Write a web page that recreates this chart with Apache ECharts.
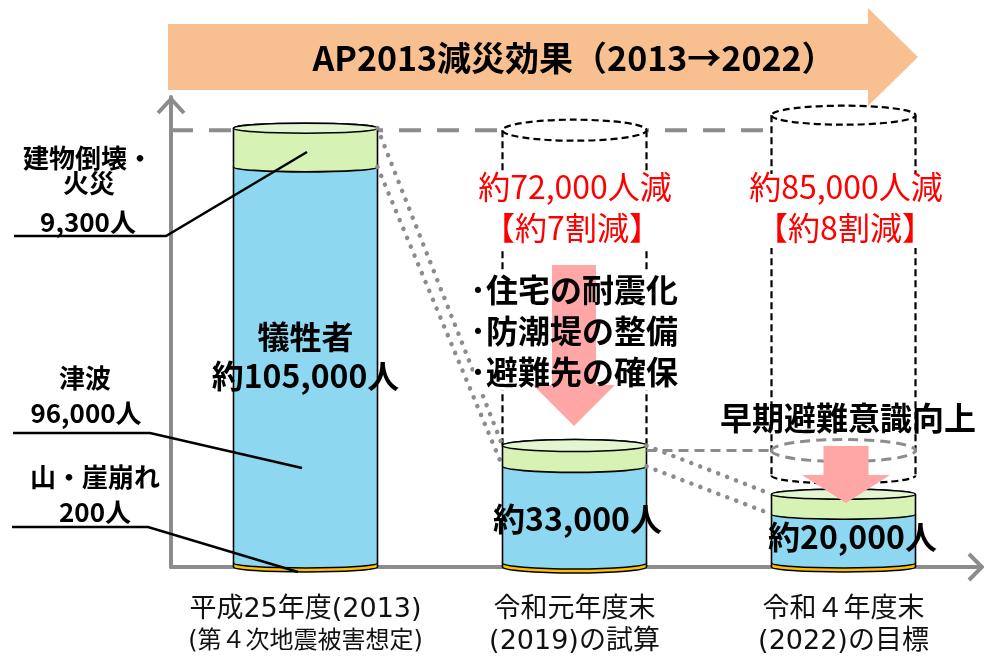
<!DOCTYPE html>
<html>
<head>
<meta charset="utf-8">
<title>AP2013減災効果</title>
<script src="https://cdn.jsdelivr.net/npm/echarts@6.0.0/dist/echarts.min.js"></script>
<style>
html,body{margin:0;padding:0;background:#fff;}
#chart{width:984px;height:657px;}
</style>
</head>
<body>
<div id="chart"></div>
<script>
// カテゴリ（横軸）
var categories = ['平成25年度(2013)', '令和元年度末', '令和４年度末'];
var categorySub = ['(第４次地震被害想定)', '(2019)の試算', '(2022)の目標'];
// 犠牲者の内訳（人）　下から 山・崖崩れ / 津波 / 建物倒壊・火災
var landslide = [200, 200, 200];
var tsunami = [96000, 24000, 12500];
var building = [9300, 5000, 4800];
var totalLabels = ['犠牲者\n約105,000人', '約33,000人', '約20,000人'];
var reduceLabels = ['', '約72,000人減\n【約7割減】', '約85,000人減\n【約8割減】'];
var measures = ['･住宅の耐震化', '･防潮堤の整備', '･避難先の確保'];
var yMax = 113000;

var FONT = '"Noto Sans CJK JP", "Noto Sans", sans-serif';
var LABEL_FONT = '"DejaVu Sans", "Noto Sans CJK JP", sans-serif';
var GRAY = '#8c8c8c';
var BAR_W = 144;
var colors = ['#ffc000', '#8dd7f0', '#d6f2b4'];

function total(i) { return landslide[i] + tsunami[i] + building[i]; }
function greenBase(i) { return landslide[i] + tsunami[i]; }

// 円柱の側面（上は奥側の弧、下は手前の弧）
function cylPath(x0, x1, yt, yb, ry) {
	var rx = (x1 - x0) / 2;
	return 'M' + x0 + ' ' + yt + 'L' + x0 + ' ' + yb +
		'A' + rx + ' ' + ry + ' 0 0 0 ' + x1 + ' ' + yb +
		'L' + x1 + ' ' + yt +
		'A' + rx + ' ' + ry + ' 0 0 0 ' + x0 + ' ' + yt + 'Z';
}
function ellipsePath(x0, x1, cy, ry) {
	var rx = (x1 - x0) / 2;
	return 'M' + x0 + ' ' + cy + 'A' + rx + ' ' + ry + ' 0 0 0 ' + x1 + ' ' + cy +
		'A' + rx + ' ' + ry + ' 0 0 0 ' + x0 + ' ' + cy + 'Z';
}
function frontArc(x0, x1, cy, ry) {
	var rx = (x1 - x0) / 2;
	return 'M' + x0 + ' ' + cy + 'A' + rx + ' ' + ry + ' 0 0 0 ' + x1 + ' ' + cy;
}

function renderItem(params, api) {
	var i = api.value(0);
	var base = api.coord([i, 0]);
	var cx = base[0], x0 = cx - BAR_W / 2, x1 = cx + BAR_W / 2;
	var ys = [base[1]];
	var cum = 0;
	for (var k = 1; k <= 3; k++) {
		cum += api.value(k);
		var y = api.coord([i, cum])[1];
		if (ys[k - 1] - y < 4) y = ys[k - 1] - 4; //最小の厚さ
		ys.push(y);
	}
	var ry = [5, 6, 5][i];
	var children = [];
	var top0 = api.coord([0, total(0)])[1];
	var dashBlack = {stroke: '#000', lineWidth: 2.2, lineDash: [7, 4], fill: null};

	if (i === 0) {
		//2013年の水準（破線）
		var endX = api.coord([2, 0])[0] - BAR_W / 2;
		children.push({type: 'line', shape: {x1: params.coordSys.x, y1: top0 + 2, x2: endX, y2: top0 + 2},
			style: {stroke: GRAY, lineWidth: 4, lineDash: [22, 16]}});
	} else {
		var gt = i === 1 ? top0 + 2 : top0 - 13;
		var gry = i === 1 ? 10.5 : 9.5;
		var gb = i === 1 ? ys[3] : api.coord([1, total(1)])[1] + 30;
		children.push({type: 'path', shape: {pathData: cylPath(x0, x1, gt, gb, 8)}, style: {fill: '#fff', stroke: null}});
		children.push({type: 'line', shape: {x1: x0, y1: gt, x2: x0, y2: gb}, style: dashBlack});
		children.push({type: 'line', shape: {x1: x1, y1: gt, x2: x1, y2: gb}, style: dashBlack});
		children.push({type: 'path', shape: {pathData: ellipsePath(x0, x1, gt, gry)},
			style: {fill: '#fff', stroke: '#000', lineWidth: 2.2, lineDash: [7, 4]}});
		if (i === 2) {
			children.push({type: 'path', shape: {pathData: frontArc(x0, x1, gb, 8)}, style: dashBlack});
			//令和元年度の水準
			var top1 = api.coord([1, total(1)])[1] + 5;
			var px1 = api.coord([1, 0])[0] + BAR_W / 2;
			children.push({type: 'line', shape: {x1: px1, y1: top1, x2: x0, y2: top1},
				style: {stroke: GRAY, lineWidth: 3, lineDash: [10, 6]}});
			children.push({type: 'path', shape: {pathData: ellipsePath(x0, x1, top1, 11)},
				style: {fill: null, stroke: GRAY, lineWidth: 3, lineDash: [10, 6]}});
		}
		//前の円柱からの点線
		var prevX = api.coord([i - 1, 0])[0] + BAR_W / 2;
		var pTop = api.coord([i - 1, total(i - 1)])[1];
		var pMid = api.coord([i - 1, greenBase(i - 1)])[1];
		var dots = {stroke: GRAY, lineWidth: 4.5, lineDash: [0.1, 9.5], lineCap: 'round'};
		children.push({type: 'line', shape: {x1: prevX, y1: pTop, x2: x0, y2: ys[3]}, style: dots});
		children.push({type: 'line', shape: {x1: prevX, y1: pMid, x2: x0, y2: ys[2]}, style: dots});
	}

	for (var s = 0; s < 3; s++) {
		children.push({type: 'path', shape: {pathData: cylPath(x0, x1, ys[s + 1], ys[s], ry)},
			style: {fill: colors[s], stroke: '#000', lineWidth: 1.6}});
	}
	children.push({type: 'path', shape: {pathData: ellipsePath(x0, x1, ys[3], ry)},
		style: {fill: '#e3f6cf', stroke: '#000', lineWidth: 1.6}});

	var dx = [0, 3, 9][i], dy = [-9, 4, -2][i];
	children.push({type: 'text', x: cx + dx, y: (ys[1] + ys[2]) / 2 + dy,
		style: {text: totalLabels[i], font: 'bold 32px ' + FONT, fill: '#000',
			align: 'center', verticalAlign: 'middle', lineHeight: 39}});
	return {type: 'group', children: children};
}

var seriesData = [];
for (var i = 0; i < categories.length; i++) {
	seriesData.push([i, landslide[i], tsunami[i], building[i]]);
}

function txt(x, y, s, font, fill, z, align) {
	return {type: 'text', x: x, y: y, z: z || 12,
		style: {text: s, font: font, fill: fill || '#000', align: align || 'center', verticalAlign: 'middle'}};
}
function poly(points, style, z) {
	return {type: 'polyline', z: z || 10, shape: {points: points}, style: style};
}
function arrow(cx, top, neck, tip, sw, hw) {
	return {type: 'polygon', z: 11, shape: {points: [[cx - sw, top], [cx + sw, top], [cx + sw, neck], [cx + hw, neck],
		[cx, tip], [cx - hw, neck], [cx - sw, neck]]}, style: {fill: '#ffa6a6'}};
}

var B26 = 'bold 26px ' + FONT, B32 = 'bold 32px ' + FONT, R32 = '32px ' + FONT;
var axisStyle = {stroke: GRAY, lineWidth: 4, fill: 'none'};
var leader = {stroke: '#000', lineWidth: 2.5, fill: 'none'};

var graphics = [
	//タイトル矢印
	{type: 'polygon', z: 1, shape: {points: [[168, 24], [868, 24], [868, 8], [918, 57], [868, 106], [868, 90], [168, 90]]},
		style: {fill: '#f8c090'}},
	txt(574, 58, 'AP2013減災効果（2013→2022）', 'bold 34px ' + FONT, '#000', 3),
	//軸の矢印
	poly([[158, 113], [171, 99], [184, 113]], axisStyle, 5),
	poly([[969, 554], [982, 567], [969, 580]], axisStyle, 5),
	poly([[976, 567], [982, 567]], axisStyle, 5),
	//左側の注記
	txt(88, 158, '建物倒壊・', B26), txt(89, 183, '火災', B26), txt(88, 222, '9,300人', B26),
	txt(85, 378, '津波', B26), txt(86, 413, '96,000人', B26),
	txt(95, 477, '山・崖崩れ', B26), txt(95, 512, '200人', B26),
	poly([[14, 236], [166, 236], [307, 152]], leader),
	poly([[13, 433], [150, 433], [302, 468]], leader),
	poly([[12, 527], [148, 527], [298, 572]], leader),
	//白い背景
	{type: 'rect', z: 10, shape: {x: 476, y: 174, width: 198, height: 74}, style: {fill: '#fff'}},
	{type: 'rect', z: 10, shape: {x: 746, y: 174, width: 200, height: 74}, style: {fill: '#fff'}},
	{type: 'rect', z: 10, shape: {x: 474, y: 273, width: 216, height: 117}, style: {fill: '#fff'}},
	arrow(574, 265, 385, 426, 22, 41),
	arrow(846, 446, 475, 503, 22.5, 44),
	txt(575, 187, reduceLabels[1].split('\n')[0], R32, '#ff0000'),
	txt(572, 228, reduceLabels[1].split('\n')[1], R32, '#ff0000'),
	txt(846, 187, reduceLabels[2].split('\n')[0], R32, '#ff0000'),
	txt(845, 228, reduceLabels[2].split('\n')[1], R32, '#ff0000'),
	txt(848, 418, '早期避難意識向上', B32)
];
for (var m = 0; m < measures.length; m++) {
	graphics.push(txt(470, 290 + m * 41, measures[m], 'bold 32px ' + FONT, '#000', 12, 'left'));
}

var chart = echarts.init(document.getElementById('chart'));
var option = {
	animation: false,
	grid: {left: 171, right: 6, top: 97, bottom: 90, outerBoundsMode: 'none'},
	xAxis: {
		type: 'category',
		data: categories,
		axisLine: {lineStyle: {color: GRAY, width: 4}},
		axisTick: {show: false},
		axisLabel: {
			interval: 0,
			margin: 27,
			formatter: function (v, idx) {
				return '{a|' + v + '}\n{' + (idx === 0 ? 'c' : 'a') + '|' + categorySub[idx] + '}';
			},
			rich: {
				a: {fontSize: 27, lineHeight: 32, fontFamily: LABEL_FONT, color: '#111'},
				c: {fontSize: 24, lineHeight: 32, fontFamily: LABEL_FONT, color: '#111'}
			}
		}
	},
	yAxis: {
		type: 'value',
		min: 0,
		max: yMax,
		axisLine: {show: true, lineStyle: {color: GRAY, width: 4}},
		axisTick: {show: false},
		axisLabel: {show: false},
		splitLine: {show: false}
	},
	series: [{
		type: 'custom',
		renderItem: renderItem,
		encode: {x: 0, y: 1},
		data: seriesData,
		z: 2
	}],
	graphic: graphics
};
chart.setOption(option);
</script>
</body>
</html>
